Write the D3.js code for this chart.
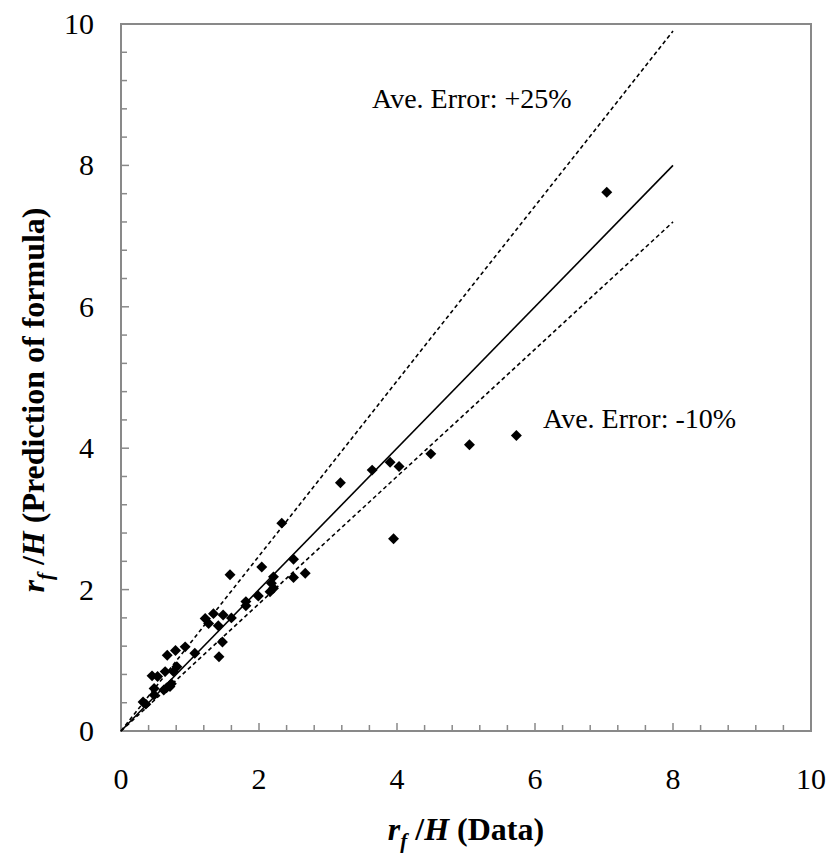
<!DOCTYPE html>
<html><head><meta charset="utf-8">
<script src="https://cdn.jsdelivr.net/npm/d3@7"></script>
<style>body{margin:0;background:#fff}svg{display:block}text{font-family:"Liberation Serif","Times New Roman",serif}</style>
</head><body><svg id="c" width="830" height="855"></svg>
<script>
const dataX = [7.04,5.73,5.05,4.49,4.03,3.90,3.64,3.18,3.95,2.33,2.04,1.58,2.50,2.67,2.50,2.21,2.18,2.21,2.16,1.99,1.81,1.81,1.60,1.48,1.34,1.22,1.27,1.41,1.47,1.42,1.07,0.93,0.79,0.67,0.81,0.76,0.64,0.53,0.45,0.73,0.71,0.62,0.66,0.48,0.48,0.32,0.36];
const dataY = [7.62,4.18,4.05,3.92,3.74,3.80,3.69,3.51,2.72,2.94,2.32,2.21,2.43,2.23,2.17,2.18,2.09,2.02,1.97,1.91,1.83,1.77,1.60,1.64,1.66,1.59,1.52,1.49,1.26,1.05,1.10,1.19,1.14,1.07,0.91,0.84,0.84,0.77,0.78,0.67,0.63,0.58,0.61,0.60,0.51,0.41,0.38];
const lineX = [0, 8];
const lineSolidY = [0, 8];
const lineUpperY = [0, 9.9];
const lineLowerY = [0, 7.2];
const tickValues = [0,2,4,6,8,10];
const annUpper = "Ave. Error: +25%";
const annLower = "Ave. Error: -10%";

const svg = d3.select("#c");
const L=121, R=811, T=24, B=731;
const x = d3.scaleLinear().domain([0,10]).range([L,R]);
const y = d3.scaleLinear().domain([0,10]).range([B,T]);
const axisColor = "#898989";
const minor = d3.range(0, 10.0001, 0.4);

// ticks inside
const gt = svg.append("g").attr("stroke", axisColor).attr("stroke-width", 1.5);
minor.forEach(v => {
  const major = Math.abs(v/2 - Math.round(v/2)) < 1e-6;
  const len = major ? 8 : 6;
  gt.append("line").attr("x1", x(v)).attr("x2", x(v)).attr("y1", B).attr("y2", B-len);
  gt.append("line").attr("x1", L).attr("x2", L+len).attr("y1", y(v)).attr("y2", y(v));
});
// frame
svg.append("rect").attr("x", L).attr("y", T).attr("width", R-L).attr("height", B-T)
  .attr("fill","none").attr("stroke", axisColor).attr("stroke-width", 2);

// tick labels
svg.append("g").selectAll("text").data(tickValues).join("text")
  .attr("x", d=>x(d)).attr("y", 789).attr("text-anchor","middle")
  .attr("font-size", 30).text(d=>d);
svg.append("g").selectAll("text").data(tickValues).join("text")
  .attr("x", 94).attr("y", d=>y(d)+10).attr("text-anchor","end")
  .attr("font-size", 30).text(d=>d);

// lines
const line = d3.line().x(d=>x(d[0])).y(d=>y(d[1]));
const mk = ys => lineX.map((v,i)=>[v, ys[i]]);
svg.append("path").attr("d", line(mk(lineSolidY))).attr("fill","none").attr("stroke","#000").attr("stroke-width",1.6);
svg.append("path").attr("d", line(mk(lineUpperY))).attr("fill","none").attr("stroke","#000").attr("stroke-width",1.6).attr("stroke-dasharray","4,3");
svg.append("path").attr("d", line(mk(lineLowerY))).attr("fill","none").attr("stroke","#000").attr("stroke-width",1.6).attr("stroke-dasharray","4,3");

// points
const sym = d3.symbol(d3.symbolSquare, 60);
svg.append("g").selectAll("path").data(dataX.map((v,i)=>[v,dataY[i]])).join("path")
  .attr("d", sym()).attr("fill","#000")
  .attr("transform", d=>`translate(${x(d[0])},${y(d[1])}) rotate(45)`);

// annotations
svg.append("text").attr("x", 372).attr("y", 108).attr("font-size", 28).text(annUpper);
svg.append("text").attr("x", 543).attr("y", 428).attr("font-size", 28).text(annLower);

// axis titles
const xt = svg.append("text").attr("x", 466).attr("y", 840).attr("text-anchor","middle")
  .attr("font-size", 32).attr("font-weight","bold");
xt.append("tspan").attr("font-style","italic").text("r");
xt.append("tspan").attr("font-style","italic").attr("font-size", 21).attr("dy", 8).text("f");
xt.append("tspan").attr("dy", -8).text(" /");
xt.append("tspan").attr("font-style","italic").text("H");
xt.append("tspan").text(" (Data)");

const yt = svg.append("text").attr("transform", "translate(44,400) rotate(-90)").attr("text-anchor","middle")
  .attr("font-size", 32).attr("font-weight","bold");
yt.append("tspan").attr("font-style","italic").text("r");
yt.append("tspan").attr("font-style","italic").attr("font-size", 21).attr("dy", 8).text("f");
yt.append("tspan").attr("dy", -8).text(" /");
yt.append("tspan").attr("font-style","italic").text("H");
yt.append("tspan").text(" (Prediction of formula)");
</script></body></html>
